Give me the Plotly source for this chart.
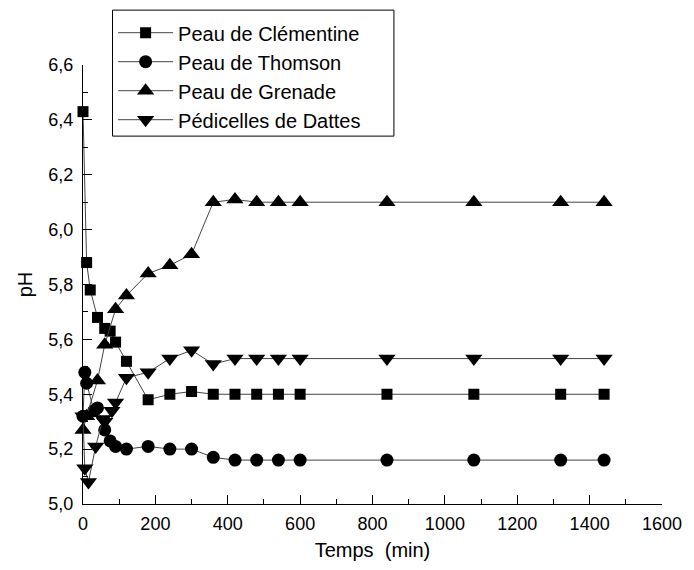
import plotly.graph_objects as go

# Data
t_clem = [0, 10, 20, 40, 60, 75, 90, 120, 180, 240, 300, 360, 420, 480, 540, 600, 840, 1080, 1320, 1440]
ph_clem = [6.43, 5.88, 5.78, 5.68, 5.64, 5.63, 5.59, 5.52, 5.38, 5.40, 5.41, 5.40, 5.40, 5.40, 5.40, 5.40, 5.40, 5.40, 5.40, 5.40]

t_thom = [0, 5, 10, 30, 40, 60, 75, 90, 120, 180, 240, 300, 360, 420, 480, 540, 600, 840, 1080, 1320, 1440]
ph_thom = [5.32, 5.48, 5.44, 5.34, 5.35, 5.27, 5.23, 5.21, 5.20, 5.21, 5.20, 5.20, 5.17, 5.16, 5.16, 5.16, 5.16, 5.16, 5.16, 5.16, 5.16]

t_gren = [0, 10, 40, 60, 90, 120, 180, 240, 300, 360, 420, 480, 540, 600, 840, 1080, 1320, 1440]
ph_gren = [5.27, 5.32, 5.45, 5.58, 5.71, 5.76, 5.84, 5.87, 5.91, 6.10, 6.11, 6.10, 6.10, 6.10, 6.10, 6.10, 6.10, 6.10]

t_datt = [0, 5, 15, 35, 55, 60, 80, 90, 120, 180, 240, 300, 360, 420, 480, 540, 600, 840, 1080, 1320, 1440]
ph_datt = [5.32, 5.13, 5.08, 5.21, 5.31, 5.30, 5.34, 5.37, 5.46, 5.48, 5.53, 5.56, 5.51, 5.53, 5.53, 5.53, 5.53, 5.53, 5.53, 5.53, 5.53]

series = [
    ("Peau de Clémentine", t_clem, ph_clem, "square", 11),
    ("Peau de Thomson", t_thom, ph_thom, "circle", 13),
    ("Peau de Grenade", t_gren, ph_gren, "triangle-up", 15),
    ("Pédicelles de Dattes", t_datt, ph_datt, "triangle-down", 15),
]

FONT = "Liberation Sans, Arial, sans-serif"

fig = go.Figure()
for name, t, ph, sym, sz in series:
    fig.add_trace(go.Scatter(
        x=t, y=ph, name=name, mode="lines+markers",
        line=dict(color="#444444", width=1),
        marker=dict(symbol=sym, size=sz, color="black", line=dict(width=0)),
        cliponaxis=False,
    ))

fig.update_layout(
    width=694, height=570,
    margin=dict(l=83, r=23, t=65, b=66),
    paper_bgcolor="white", plot_bgcolor="white",
    separators=", ",
    font=dict(family=FONT, size=18, color="black"),
    showlegend=True,
    legend=dict(
        x=0.052, y=1.118, xanchor="left", yanchor="top",
        borderwidth=0, bgcolor="rgba(0,0,0,0)",
        font=dict(family=FONT, size=20, color="black"),
        tracegroupgap=0, itemwidth=55,
    ),
    shapes=[dict(
        type="rect", xref="paper", yref="paper",
        x0=0.051, x1=0.537, y0=0.838, y1=1.125,
        line=dict(color="black", width=1), fillcolor="white", layer="below",
    )],
)

fig.update_xaxes(
    range=[0, 1600], tick0=0, dtick=200,
    ticks="inside", ticklen=9, tickwidth=1, tickcolor="black",
    minor=dict(dtick=100, ticks="inside", ticklen=5, tickcolor="black"),
    showline=True, linecolor="black", linewidth=1,
    showgrid=False, zeroline=False,
    ticklabelstandoff=3,
    title=dict(text="Temps  (min)", font=dict(family=FONT, size=20), standoff=10),
    tickfont=dict(family=FONT, size=18),
)
fig.update_yaxes(
    range=[5.0, 6.6], tick0=5.0, dtick=0.2, tickformat=".1f",
    ticks="inside", ticklen=9, tickwidth=1, tickcolor="black",
    minor=dict(dtick=0.1, ticks="inside", ticklen=5, tickcolor="black"),
    showline=True, linecolor="black", linewidth=1,
    showgrid=False, zeroline=False,
    ticklabelstandoff=5,
    title=dict(text="pH", font=dict(family=FONT, size=20), standoff=10),
    tickfont=dict(family=FONT, size=18),
)

fig.write_html("out.html")
